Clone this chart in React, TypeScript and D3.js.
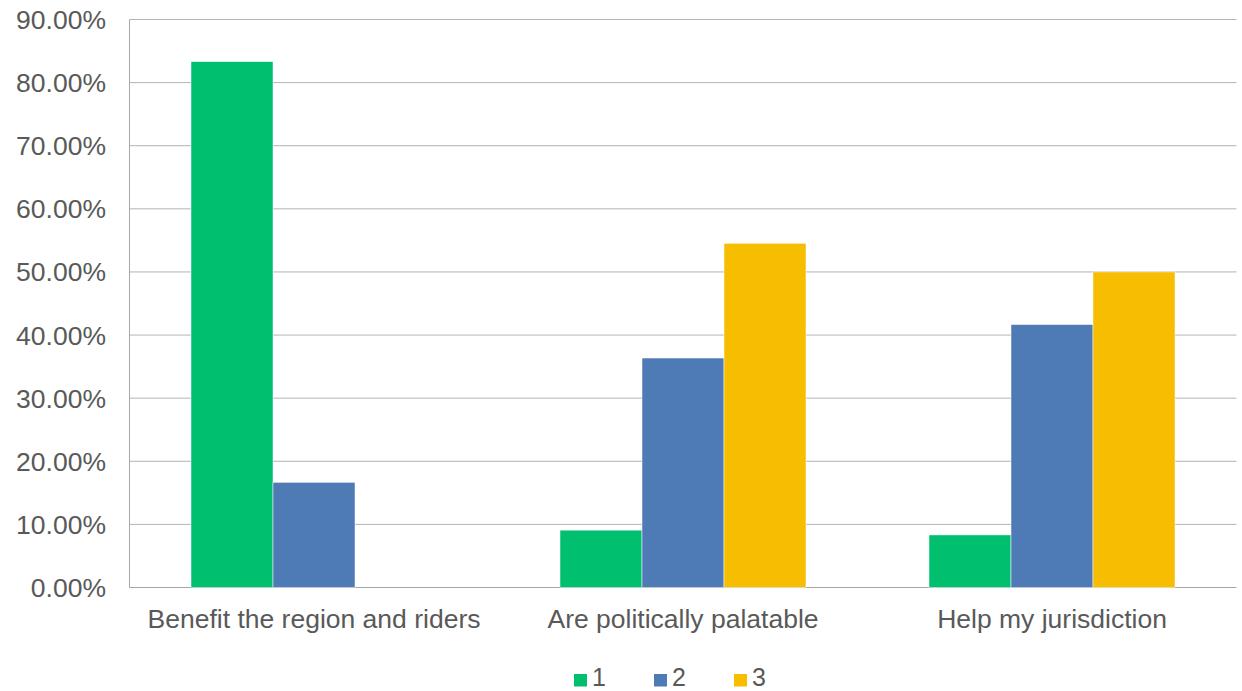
import React from "react";
import * as d3 from "d3";

const categories = ["Benefit the region and riders", "Are politically palatable", "Help my jurisdiction"];
const seriesNames = ["1", "2", "3"];
const series1 = [83.33, 9.09, 8.33];
const series2 = [16.67, 36.36, 41.67];
const series3 = [0, 54.55, 50.0];
const yTicks = [0, 10, 20, 30, 40, 50, 60, 70, 80, 90];
const colors = ["#00BF6F", "#4E7AB5", "#F7BD00"];

const W = 1242;
const H = 691;
const left = 129.5;
const right = 1236.5;
const top = 19.5;
const bottom = 587.5;

export default function App() {
  const allSeries = [series1, series2, series3];
  const x0 = d3.scaleBand<string>().domain(categories).range([left, right]).padding(0);
  const bw = x0.bandwidth();
  const x1 = d3.scaleBand<string>().domain(seriesNames).range([bw / 6, (bw * 5) / 6]).padding(0);
  const y = d3.scaleLinear().domain([0, 90]).range([bottom, top]);
  const font = "'Liberation Sans', Arial, sans-serif";
  const textColor = "#595959";
  const fs = 26.5;

  return (
    <svg width={W} height={H} style={{ position: "absolute", left: 0, top: 0, background: "#fff" }} fontFamily={font}>
      {yTicks.map((t) => (
        <g key={t}>
          <line x1={left} x2={right} y1={y(t)} y2={y(t)} stroke={t === 0 ? "#A6A6A6" : "#B3B3B3"} strokeWidth={1} />
          <text x={106} y={y(t) + 9.5} textAnchor="end" fontSize={fs} fill={textColor}>
            {t.toFixed(2) + "%"}
          </text>
        </g>
      ))}
      <line x1={left} x2={left} y1={top} y2={bottom} stroke="#A6A6A6" strokeWidth={1} />
      {categories.map((c, i) => (
        <g key={c}>
          {allSeries.map((s, j) =>
            s[i] > 0 ? (
              <rect
                key={j}
                x={(x0(c) as number) + (x1(seriesNames[j]) as number)}
                y={y(s[i])}
                width={x1.bandwidth()}
                height={bottom - y(s[i])}
                fill={colors[j]}
                stroke="#fff"
                strokeWidth={0.5}
              />
            ) : null
          )}
          <text x={(x0(c) as number) + bw / 2} y={628} textAnchor="middle" fontSize={fs} fill={textColor}>
            {c}
          </text>
        </g>
      ))}
      {seriesNames.map((n, j) => (
        <g key={n}>
          <rect x={574 + j * 80} y={674} width={13} height={12.5} fill={colors[j]} />
          <text x={592 + j * 80} y={686} fontSize={25} fill={textColor}>
            {n}
          </text>
        </g>
      ))}
    </svg>
  );
}
